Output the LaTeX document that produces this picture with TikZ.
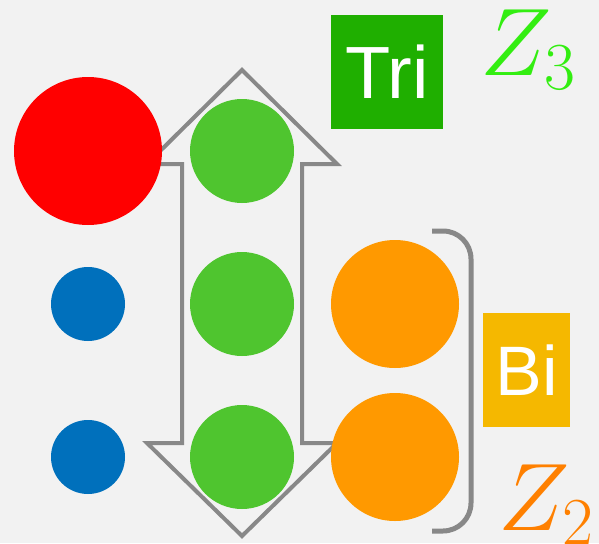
\RequirePackage{fix-cm}
\documentclass[tikz,border=0pt]{standalone}
\usepackage[no-math]{fontspec}
\setmainfont{Liberation Sans}
\usetikzlibrary{positioning}

\definecolor{bgcol}{HTML}{F2F2F2}
\definecolor{arrowgray}{HTML}{888888}
\definecolor{dotred}{HTML}{FF0000}
\definecolor{dotblue}{HTML}{0070BC}
\definecolor{dotgreen}{HTML}{4FC52F}
\definecolor{dotorange}{HTML}{FF9900}
\definecolor{trigreen}{HTML}{1FAF00}
\definecolor{biyellow}{HTML}{F5B800}
\definecolor{zthree}{HTML}{33EE11}
\definecolor{ztwo}{HTML}{FF8000}

\begin{document}
\begin{tikzpicture}[x=1pt,y=-1pt,
  dot/.style={circle,inner sep=0pt,fill=#1},
  tag/.style={fill=#1,text=white,inner sep=0pt},
  group/.style={font=\fontsize{96}{100}\selectfont,text=#1,inner sep=0pt,anchor=base west},
  outline/.style={draw=arrowgray,line width=4pt}]
\fill[bgcol] (0,0) rectangle (599,543);
\useasboundingbox (0,0) rectangle (599,543);
% double arrow
\coordinate (n) at (242,70);
\coordinate (s) at (242,536);
\draw[outline] (n) -- (337,164) -- (302,164) -- (302,443) -- (337,443) -- (s)
  -- (147,443) -- (182,443) -- (182,164) -- (147,164) -- cycle;
% bracket
\draw[draw=arrowgray,line width=5pt,rounded corners=28pt] (432,231) -- (471,231) -- (471,531) -- (432,531);
% dots
\node[dot=dotred,minimum size=148pt] (r1) at (88,151) {};
\node[dot=dotblue,minimum size=74pt] (b2) at (88,304) {};
\node[dot=dotblue,minimum size=74pt] (b3) at (88,457) {};
\node[dot=dotgreen,minimum size=104pt] (g1) at (242,151) {};
\node[dot=dotgreen,minimum size=104pt] (g2) at (242,304) {};
\node[dot=dotgreen,minimum size=104pt] (g3) at (242,457) {};
\node[dot=dotorange,minimum size=128pt] (o2) at (395,304) {};
\node[dot=dotorange,minimum size=128pt] (o3) at (395,457) {};
% labels
\node[tag=trigreen,minimum width=112pt,minimum height=114pt,font=\fontsize{74}{80}\selectfont] (tri) at (387,72) {Tri};
\node[tag=biyellow,minimum width=87pt,minimum height=114pt,font=\fontsize{70}{76}\selectfont] (bi) at (526.5,370) {Bi};
\node[group=zthree] (z3) at (480,75) {$Z_3$};
\node[group=ztwo] (z2) at (498,530) {$Z_2$};
\end{tikzpicture}
\end{document}
